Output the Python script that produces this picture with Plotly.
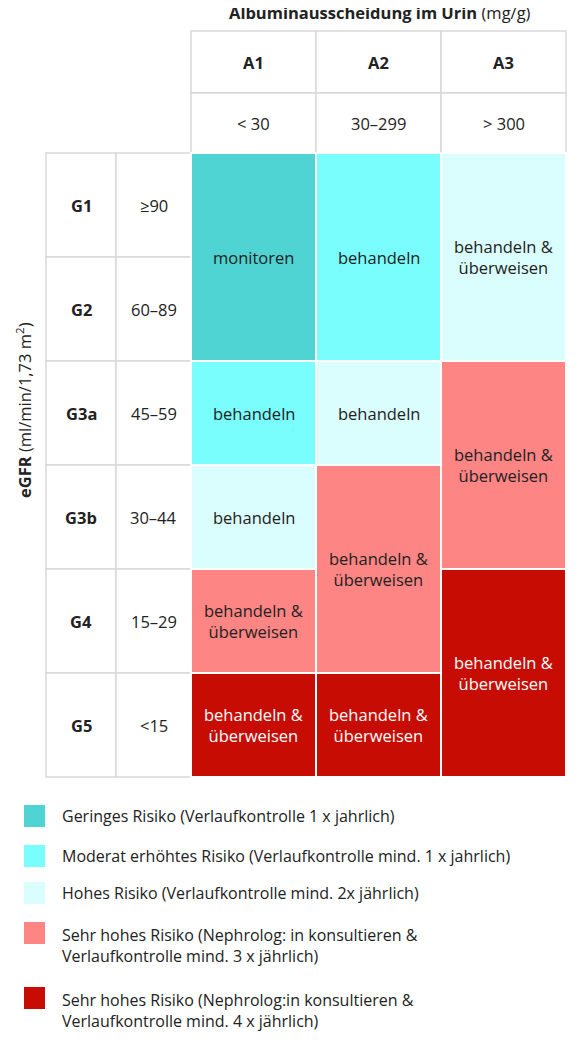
import plotly.graph_objects as go

cols = ["A1", "A2", "A3"]
col_ranges = ["< 30", "30–299", "> 300"]
rows = ["G1", "G2", "G3a", "G3b", "G4", "G5"]
row_ranges = ["≥90", "60–89", "45–59", "30–44", "15–29", "<15"]
colors = ["#4fd3d3", "#79fdfd", "#dafdfd", "#fd8584", "#c70d03"]
legend_labels = [
    "Geringes Risiko (Verlaufkontrolle 1 x jahrlich)",
    "Moderat erhöhtes Risiko (Verlaufkontrolle mind. 1 x jahrlich)",
    "Hohes Risiko (Verlaufkontrolle mind. 2x jährlich)",
    "Sehr hohes Risiko (Nephrolog: in konsultieren &<br>Verlaufkontrolle mind. 3 x jährlich)",
    "Sehr hohes Risiko (Nephrolog:in konsultieren &<br>Verlaufkontrolle mind. 4 x jährlich)",
]
# blocks: column index, first row, row span, risk level, label
block_col = [0, 0, 0, 0, 0, 1, 1, 1, 1, 2, 2, 2]
block_row = [0, 2, 3, 4, 5, 0, 2, 3, 5, 0, 2, 4]
block_span = [2, 1, 1, 1, 1, 2, 1, 2, 1, 2, 2, 2]
block_level = [0, 1, 2, 3, 4, 1, 2, 3, 4, 2, 3, 4]
BU = "behandeln &<br>überweisen"
block_text = ["monitoren", "behandeln", "behandeln", BU, BU,
              "behandeln", "behandeln", BU, BU, BU, BU, BU]

FONT = "Open Sans"
GRID = "#d9d9d9"
x_lab = [46, 116, 191]
x_col = [191, 316, 441, 566]
y_head = [31, 93, 153]
y0, rh = 153, 104
FS = 16.5

fig = go.Figure()
shapes, ann = [], []

def rect(x0, y0_, x1, y1, fill="white", line=GRID, w=1.5):
    shapes.append(dict(type="rect", xref="x", yref="y", x0=x0, y0=y0_, x1=x1, y1=y1,
                       fillcolor=fill, line=dict(color=line, width=w), layer="below"))

def text(x, y, t, size=FS, color="#222"):
    ann.append(dict(x=x, y=y, xref="x", yref="y", text=t, showarrow=False,
                    font=dict(family=FONT, size=size, color=color),
                    xanchor="center", yanchor="middle", align="center"))

for i, c in enumerate(cols):
    rect(x_col[i], y_head[0], x_col[i+1], y_head[1])
    rect(x_col[i], y_head[1], x_col[i+1], y_head[2])
    text((x_col[i]+x_col[i+1])/2, (y_head[0]+y_head[1])/2, f"<b>{c}</b>")
    text((x_col[i]+x_col[i+1])/2, (y_head[1]+y_head[2])/2, col_ranges[i])
for j, r in enumerate(rows):
    ya, yb = y0 + j*rh, y0 + (j+1)*rh
    rect(x_lab[0], ya, x_lab[1], yb)
    rect(x_lab[1], ya, x_lab[2], yb)
    text((x_lab[0]+x_lab[1])/2, (ya+yb)/2, f"<b>{r}</b>")
    text((x_lab[1]+x_lab[2])/2, (ya+yb)/2, row_ranges[j])
for c, r, s, lv, t in zip(block_col, block_row, block_span, block_level, block_text):
    ya, yb = y0 + r*rh, y0 + (r+s)*rh
    rect(x_col[c], ya, x_col[c+1], yb, fill=colors[lv], line="white", w=2)
    text((x_col[c]+x_col[c+1])/2, (ya+yb)/2, t, color="white" if lv == 4 else "#222")

text(380, 12, "<b>Albuminausscheidung im Urin</b> (mg/g)")
ann.append(dict(x=24, y=410, xref="x", yref="y", text="<b>eGFR</b> (ml/min/1,73 m<sup>2</sup>)",
                showarrow=False, textangle=-90, font=dict(family=FONT, size=FS, color="#222")))

leg_y = [816, 856, 893, 945, 1010]
for i, lab in enumerate(legend_labels):
    sy = leg_y[i] - (12 if "<br>" in lab else 0)
    rect(24, sy - 11, 45, sy + 11, fill=colors[i], line=colors[i], w=0)
    ann.append(dict(x=60, y=leg_y[i], xref="x", yref="y", text=lab, showarrow=False,
                    xanchor="left", yanchor="middle", align="left",
                    font=dict(family=FONT, size=16, color="#222")))

fig.update_layout(width=580, height=1059, margin=dict(l=0, r=0, t=0, b=0),
                  plot_bgcolor="white", paper_bgcolor="white", shapes=shapes, annotations=ann,
                  xaxis=dict(range=[8, 588], visible=False, fixedrange=True),
                  yaxis=dict(range=[1067, 8], visible=False, fixedrange=True),
                  showlegend=False)
fig.write_html("out.html")
